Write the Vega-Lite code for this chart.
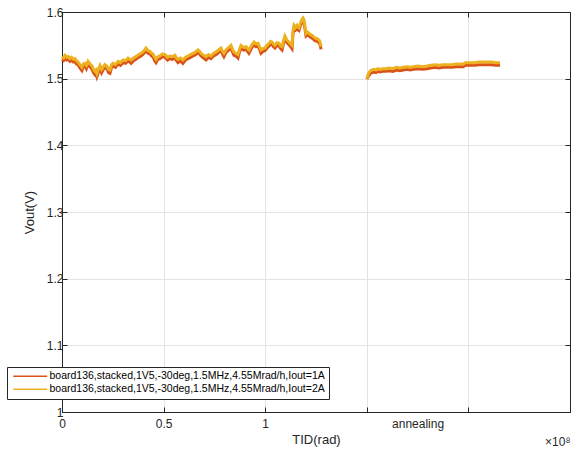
{
"$schema": "https://vega.github.io/schema/vega-lite/v6.json",
"width": 508, "height": 400,
"autosize": "none",
"padding": {"left": 62, "top": 12, "right": 1, "bottom": 43},
"background": "white",
"config": {
  "view": {"stroke": null},
  "font": "Liberation Sans",
  "axis": {"domainColor": "#262626", "tickColor": "#262626", "labelColor": "#262626", "titleColor": "#262626", "labelFont": "Liberation Sans", "titleFont": "Liberation Sans", "labelFontSize": 12, "titleFontSize": 13, "titleFontWeight": "normal", "gridColor": "#e3e3e3", "domainWidth": 1}
},
"title": {"text": "×10⁸", "orient": "bottom", "anchor": "end", "fontSize": 12, "fontWeight": "normal", "font": "Liberation Sans", "color": "#262626", "offset": -9},
"data": {"values": [
{"s":1,"x":0.000,"a":1.529,"b":1.533},{"s":1,"x":0.008,"a":1.527,"b":1.531},{"s":1,"x":0.015,"a":1.530,"b":1.535},{"s":1,"x":0.024,"a":1.528,"b":1.532},
{"s":1,"x":0.031,"a":1.529,"b":1.533},{"s":1,"x":0.039,"a":1.526,"b":1.530},{"s":1,"x":0.047,"a":1.528,"b":1.532},{"s":1,"x":0.056,"a":1.525,"b":1.529},
{"s":1,"x":0.064,"a":1.526,"b":1.530},{"s":1,"x":0.071,"a":1.522,"b":1.527},{"s":1,"x":0.079,"a":1.521,"b":1.525},{"s":1,"x":0.088,"a":1.516,"b":1.521},
{"s":1,"x":0.098,"a":1.512,"b":1.517},{"s":1,"x":0.105,"a":1.518,"b":1.522},{"s":1,"x":0.113,"a":1.519,"b":1.523},{"s":1,"x":0.120,"a":1.515,"b":1.520},
{"s":1,"x":0.128,"a":1.522,"b":1.526},{"s":1,"x":0.138,"a":1.518,"b":1.522},{"s":1,"x":0.148,"a":1.514,"b":1.519},{"s":1,"x":0.155,"a":1.509,"b":1.514},
{"s":1,"x":0.162,"a":1.506,"b":1.511},{"s":1,"x":0.167,"a":1.509,"b":1.513},{"s":1,"x":0.172,"a":1.503,"b":1.508},{"s":1,"x":0.180,"a":1.510,"b":1.515},
{"s":1,"x":0.187,"a":1.516,"b":1.520},{"s":1,"x":0.195,"a":1.509,"b":1.514},{"s":1,"x":0.202,"a":1.513,"b":1.517},{"s":1,"x":0.211,"a":1.517,"b":1.521},
{"s":1,"x":0.221,"a":1.515,"b":1.519},{"s":1,"x":0.229,"a":1.509,"b":1.514},{"s":1,"x":0.236,"a":1.508,"b":1.513},{"s":1,"x":0.244,"a":1.517,"b":1.521},
{"s":1,"x":0.251,"a":1.519,"b":1.523},{"s":1,"x":0.263,"a":1.517,"b":1.521},{"s":1,"x":0.276,"a":1.522,"b":1.526},{"s":1,"x":0.288,"a":1.520,"b":1.524},
{"s":1,"x":0.300,"a":1.524,"b":1.528},{"s":1,"x":0.313,"a":1.523,"b":1.527},{"s":1,"x":0.325,"a":1.527,"b":1.531},{"s":1,"x":0.333,"a":1.525,"b":1.529},
{"s":1,"x":0.340,"a":1.523,"b":1.528},{"s":1,"x":0.352,"a":1.527,"b":1.531},{"s":1,"x":0.364,"a":1.529,"b":1.533},{"s":1,"x":0.376,"a":1.532,"b":1.536},
{"s":1,"x":0.389,"a":1.534,"b":1.538},{"s":1,"x":0.401,"a":1.537,"b":1.541},{"s":1,"x":0.413,"a":1.542,"b":1.546},{"s":1,"x":0.423,"a":1.538,"b":1.542},
{"s":1,"x":0.433,"a":1.537,"b":1.541},{"s":1,"x":0.441,"a":1.534,"b":1.538},{"s":1,"x":0.448,"a":1.533,"b":1.537},{"s":1,"x":0.456,"a":1.527,"b":1.532},
{"s":1,"x":0.463,"a":1.524,"b":1.529},{"s":1,"x":0.472,"a":1.529,"b":1.533},{"s":1,"x":0.482,"a":1.530,"b":1.534},{"s":1,"x":0.494,"a":1.533,"b":1.537},
{"s":1,"x":0.507,"a":1.532,"b":1.536},{"s":1,"x":0.519,"a":1.528,"b":1.532},{"s":1,"x":0.531,"a":1.530,"b":1.534},{"s":1,"x":0.543,"a":1.529,"b":1.533},
{"s":1,"x":0.556,"a":1.531,"b":1.535},{"s":1,"x":0.563,"a":1.527,"b":1.531},{"s":1,"x":0.571,"a":1.524,"b":1.529},{"s":1,"x":0.583,"a":1.527,"b":1.531},
{"s":1,"x":0.595,"a":1.523,"b":1.528},{"s":1,"x":0.608,"a":1.528,"b":1.532},{"s":1,"x":0.620,"a":1.530,"b":1.534},{"s":1,"x":0.632,"a":1.532,"b":1.536},
{"s":1,"x":0.645,"a":1.534,"b":1.538},{"s":1,"x":0.657,"a":1.536,"b":1.540},{"s":1,"x":0.669,"a":1.539,"b":1.543},{"s":1,"x":0.677,"a":1.537,"b":1.541},
{"s":1,"x":0.684,"a":1.534,"b":1.538},{"s":1,"x":0.697,"a":1.531,"b":1.535},{"s":1,"x":0.709,"a":1.528,"b":1.533},{"s":1,"x":0.721,"a":1.532,"b":1.536},
{"s":1,"x":0.733,"a":1.530,"b":1.534},{"s":1,"x":0.746,"a":1.534,"b":1.538},{"s":1,"x":0.758,"a":1.536,"b":1.540},{"s":1,"x":0.770,"a":1.539,"b":1.543},
{"s":1,"x":0.782,"a":1.542,"b":1.546},{"s":1,"x":0.790,"a":1.537,"b":1.541},{"s":1,"x":0.797,"a":1.533,"b":1.538},{"s":1,"x":0.807,"a":1.539,"b":1.543},
{"s":1,"x":0.817,"a":1.542,"b":1.546},{"s":1,"x":0.825,"a":1.544,"b":1.548},{"s":1,"x":0.832,"a":1.546,"b":1.550},{"s":1,"x":0.839,"a":1.540,"b":1.544},
{"s":1,"x":0.846,"a":1.535,"b":1.540},{"s":1,"x":0.856,"a":1.534,"b":1.538},{"s":1,"x":0.866,"a":1.531,"b":1.536},{"s":1,"x":0.874,"a":1.541,"b":1.545},
{"s":1,"x":0.881,"a":1.546,"b":1.550},{"s":1,"x":0.893,"a":1.543,"b":1.547},{"s":1,"x":0.906,"a":1.544,"b":1.548},{"s":1,"x":0.913,"a":1.541,"b":1.545},
{"s":1,"x":0.920,"a":1.538,"b":1.543},{"s":1,"x":0.933,"a":1.546,"b":1.550},{"s":1,"x":0.945,"a":1.551,"b":1.555},{"s":1,"x":0.955,"a":1.548,"b":1.552},
{"s":1,"x":0.965,"a":1.549,"b":1.553},{"s":1,"x":0.972,"a":1.544,"b":1.548},{"s":1,"x":0.979,"a":1.538,"b":1.543},{"s":1,"x":0.989,"a":1.541,"b":1.545},
{"s":1,"x":0.999,"a":1.542,"b":1.546},{"s":1,"x":1.009,"a":1.546,"b":1.550},{"s":1,"x":1.019,"a":1.549,"b":1.553},{"s":1,"x":1.026,"a":1.552,"b":1.556},
{"s":1,"x":1.033,"a":1.551,"b":1.555},{"s":1,"x":1.041,"a":1.548,"b":1.552},{"s":1,"x":1.048,"a":1.546,"b":1.550},{"s":1,"x":1.058,"a":1.550,"b":1.554},
{"s":1,"x":1.068,"a":1.549,"b":1.553},{"s":1,"x":1.076,"a":1.545,"b":1.549},{"s":1,"x":1.083,"a":1.543,"b":1.548},{"s":1,"x":1.090,"a":1.553,"b":1.557},
{"s":1,"x":1.097,"a":1.560,"b":1.564},{"s":1,"x":1.107,"a":1.554,"b":1.558},{"s":1,"x":1.117,"a":1.551,"b":1.555},{"s":1,"x":1.125,"a":1.548,"b":1.552},
{"s":1,"x":1.132,"a":1.545,"b":1.550},{"s":1,"x":1.137,"a":1.568,"b":1.572},{"s":1,"x":1.142,"a":1.576,"b":1.580},{"s":1,"x":1.149,"a":1.573,"b":1.577},
{"s":1,"x":1.156,"a":1.576,"b":1.580},{"s":1,"x":1.161,"a":1.573,"b":1.577},{"s":1,"x":1.166,"a":1.572,"b":1.576},{"s":1,"x":1.174,"a":1.580,"b":1.584},
{"s":1,"x":1.181,"a":1.585,"b":1.589},{"s":1,"x":1.186,"a":1.587,"b":1.591},{"s":1,"x":1.191,"a":1.584,"b":1.588},{"s":1,"x":1.196,"a":1.574,"b":1.578},
{"s":1,"x":1.201,"a":1.564,"b":1.568},{"s":1,"x":1.208,"a":1.566,"b":1.570},{"s":1,"x":1.216,"a":1.564,"b":1.568},{"s":1,"x":1.223,"a":1.562,"b":1.566},
{"s":1,"x":1.230,"a":1.561,"b":1.565},{"s":1,"x":1.238,"a":1.559,"b":1.563},{"s":1,"x":1.245,"a":1.557,"b":1.561},{"s":1,"x":1.255,"a":1.556,"b":1.560},
{"s":1,"x":1.265,"a":1.554,"b":1.558},{"s":1,"x":1.270,"a":1.551,"b":1.555},{"s":1,"x":1.275,"a":1.544,"b":1.548},
{"s":2,"x":1.501,"a":1.499,"b":1.500},{"s":2,"x":1.506,"a":1.503,"b":1.506},{"s":2,"x":1.511,"a":1.505,"b":1.509},{"s":2,"x":1.518,"a":1.508,"b":1.512},
{"s":2,"x":1.526,"a":1.509,"b":1.513},{"s":2,"x":1.535,"a":1.510,"b":1.514},{"s":2,"x":1.545,"a":1.509,"b":1.513},{"s":2,"x":1.555,"a":1.511,"b":1.515},
{"s":2,"x":1.565,"a":1.510,"b":1.514},{"s":2,"x":1.580,"a":1.511,"b":1.515},{"s":2,"x":1.594,"a":1.511,"b":1.515},{"s":2,"x":1.610,"a":1.512,"b":1.516},
{"s":2,"x":1.629,"a":1.511,"b":1.515},{"s":2,"x":1.645,"a":1.513,"b":1.517},{"s":2,"x":1.663,"a":1.512,"b":1.516},{"s":2,"x":1.680,"a":1.513,"b":1.517},
{"s":2,"x":1.698,"a":1.514,"b":1.518},{"s":2,"x":1.713,"a":1.513,"b":1.517},{"s":2,"x":1.730,"a":1.514,"b":1.518},{"s":2,"x":1.752,"a":1.515,"b":1.519},
{"s":2,"x":1.775,"a":1.514,"b":1.518},{"s":2,"x":1.796,"a":1.515,"b":1.519},{"s":2,"x":1.815,"a":1.516,"b":1.520},{"s":2,"x":1.836,"a":1.517,"b":1.521},
{"s":2,"x":1.855,"a":1.516,"b":1.520},{"s":2,"x":1.875,"a":1.517,"b":1.521},{"s":2,"x":1.895,"a":1.517,"b":1.521},{"s":2,"x":1.919,"a":1.517,"b":1.521},
{"s":2,"x":1.940,"a":1.518,"b":1.522},{"s":2,"x":1.959,"a":1.518,"b":1.522},{"s":2,"x":1.975,"a":1.518,"b":1.522},{"s":2,"x":1.985,"a":1.520,"b":1.524},
{"s":2,"x":1.993,"a":1.520,"b":1.524},{"s":2,"x":2.015,"a":1.520,"b":1.524},{"s":2,"x":2.033,"a":1.520,"b":1.524},{"s":2,"x":2.050,"a":1.521,"b":1.525},
{"s":2,"x":2.072,"a":1.521,"b":1.525},{"s":2,"x":2.095,"a":1.521,"b":1.525},{"s":2,"x":2.116,"a":1.521,"b":1.525},{"s":2,"x":2.135,"a":1.520,"b":1.524},
{"s":2,"x":2.156,"a":1.520,"b":1.524}
]},
"transform": [{"fold": ["a", "b"], "as": ["series", "v"]}],
"layer": [
  {
    "transform": [{"filter": "datum.series === 'a'"}],
    "mark": {"type": "line", "strokeWidth": 3},
    "encoding": {
      "x": {"field": "x", "type": "quantitative", "scale": {"domain": [0, 2.5], "nice": false, "zero": false},
        "axis": {"orient": "bottom", "values": [0, 0.5, 1, 1.5, 1.75, 2, 2.5], "format": "~g",
          "labelExpr": "datum.value == 1.75 ? 'annealing' : (datum.value > 1.4 ? '' : datum.label)",
          "grid": true, "gridOpacity": {"condition": {"test": "datum.value == 1.75", "value": 0}, "value": 1},
          "tickOpacity": {"condition": {"test": "datum.value == 1.75", "value": 0}, "value": 1},
          "tickSize": -5, "labelPadding": 11, "labelFlush": false, "labelOverlap": false,
          "title": "TID(rad)", "titlePadding": 4}},
      "y": {"field": "v", "type": "quantitative", "scale": {"domain": [1, 1.6], "nice": false, "zero": false},
        "axis": {"orient": "left", "values": [1, 1.1, 1.2, 1.3, 1.4, 1.5, 1.6], "format": "~g", "grid": true,
          "tickSize": -5, "labelPadding": 4, "title": "Vout(V)", "titlePadding": 10}},
      "color": {"field": "series", "type": "nominal", "scale": {"domain": ["a", "b"], "range": ["#D95319", "#EDB120"]},
        "legend": {"orient": "none", "legendX": -55, "legendY": 355, "title": null, "symbolType": "M0,0H12", "symbolSize": 32,
          "symbolStrokeWidth": 1.5, "symbolOffset": -3, "labelFontSize": 10.5, "labelFont": "Liberation Sans", "labelColor": "#000", "labelLimit": 400,
          "strokeColor": "#262626", "fillColor": "white", "padding": 4, "rowPadding": 2, "labelOffset": 31,
          "labelExpr": "datum.label == 'a' ? 'board136,stacked,1V5,-30deg,1.5MHz,4.55Mrad/h,Iout=1A' : 'board136,stacked,1V5,-30deg,1.5MHz,4.55Mrad/h,Iout=2A'"}},
      "detail": {"field": "s", "type": "nominal"}
    }
  },
  {
    "transform": [{"filter": "datum.series === 'b'"}],
    "mark": {"type": "line", "strokeWidth": 3},
    "encoding": {
      "x": {"field": "x", "type": "quantitative",
        "axis": {"orient": "top", "values": [0, 0.5, 1, 1.5, 2, 2.5], "labels": false, "grid": false, "tickSize": -5, "title": null}},
      "y": {"field": "v", "type": "quantitative",
        "axis": {"orient": "right", "values": [1, 1.1, 1.2, 1.3, 1.4, 1.5, 1.6], "labels": false, "grid": false, "tickSize": -5, "title": null}},
      "color": {"field": "series", "type": "nominal"},
      "detail": {"field": "s", "type": "nominal"}
    }
  }
],
"resolve": {"axis": {"x": "independent", "y": "independent"}}
}
